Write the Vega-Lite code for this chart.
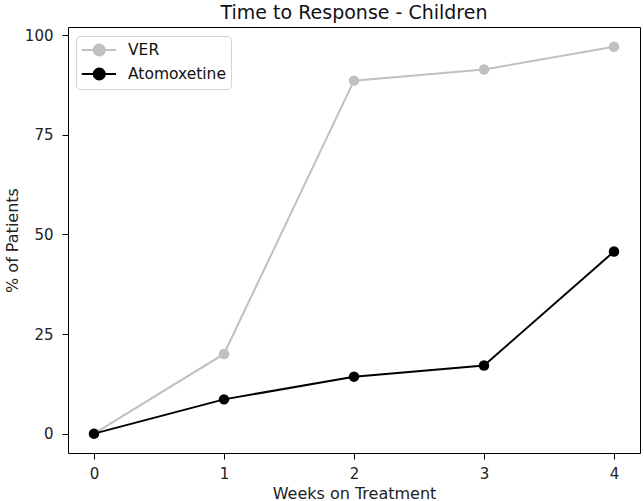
{
  "$schema": "https://vega.github.io/schema/vega-lite/v6.json",
  "width": 572,
  "height": 426,
  "autosize": {"type": "none"},
  "padding": {"left": 68, "top": 27, "right": 4, "bottom": 48},
  "background": "white",
  "title": {"text": "Time to Response - Children", "fontSize": 19, "font": "DejaVu Sans", "fontWeight": "normal", "color": "#111", "offset": 4, "anchor": "middle"},
  "config": {
    "view": {"stroke": "#000", "strokeWidth": 1},
    "font": "DejaVu Sans",
    "axis": {"grid": false, "domain": false, "tickColor": "#000", "tickSize": 6, "labelFont": "DejaVu Sans", "labelFontSize": 15, "labelColor": "#222", "titleFont": "DejaVu Sans", "titleFontSize": 16, "titleFontWeight": "normal", "titleColor": "#222"}
  },
  "data": {"values": [
    {"week": 0, "pct": 0, "group": "VER"},
    {"week": 1, "pct": 20.0, "group": "VER"},
    {"week": 2, "pct": 88.6, "group": "VER"},
    {"week": 3, "pct": 91.4, "group": "VER"},
    {"week": 4, "pct": 97.1, "group": "VER"},
    {"week": 0, "pct": 0, "group": "Atomoxetine"},
    {"week": 1, "pct": 8.6, "group": "Atomoxetine"},
    {"week": 2, "pct": 14.3, "group": "Atomoxetine"},
    {"week": 3, "pct": 17.1, "group": "Atomoxetine"},
    {"week": 4, "pct": 45.7, "group": "Atomoxetine"}
  ]},
  "encoding": {
    "x": {"field": "week", "type": "quantitative", "scale": {"domain": [-0.2, 4.2], "nice": false, "zero": false}, "axis": {"values": [0, 1, 2, 3, 4], "title": "Weeks on Treatment", "labelPadding": 7, "titlePadding": 4}},
    "y": {"field": "pct", "type": "quantitative", "scale": {"domain": [-4.86, 102.06], "nice": false, "zero": false}, "axis": {"values": [0, 25, 50, 75, 100], "title": "% of Patients", "labelPadding": 9, "titlePadding": 4}},
    "color": {"field": "group", "type": "nominal", "scale": {"domain": ["VER", "Atomoxetine"], "range": ["#c0c0c0", "#000000"]},
      "legend": {"title": null, "orient": "none", "legendX": 8, "legendY": 9, "padding": 5, "strokeColor": "#d4d4d4", "fillColor": "white", "cornerRadius": 4, "labelFontSize": 15.5, "labelColor": "#111", "labelFont": "DejaVu Sans", "symbolSize": 256, "symbolStrokeWidth": 2, "rowPadding": 4, "labelOffset": 29,
        "symbolType": "M-1.03,0L3.25,0M0.47,0A0.69,0.69,0,1,1,1.85,0A0.69,0.69,0,1,1,0.47,0Z",
        "encode": {"symbols": {"update": {"fill": {"scale": "color", "field": "value"}, "stroke": {"scale": "color", "field": "value"}, "fillOpacity": {"value": 1}}}}}}
  },
  "layer": [
    {"mark": {"type": "line", "strokeWidth": 2}},
    {"mark": {"type": "point", "filled": true, "size": 110, "opacity": 1}}
  ]
}
